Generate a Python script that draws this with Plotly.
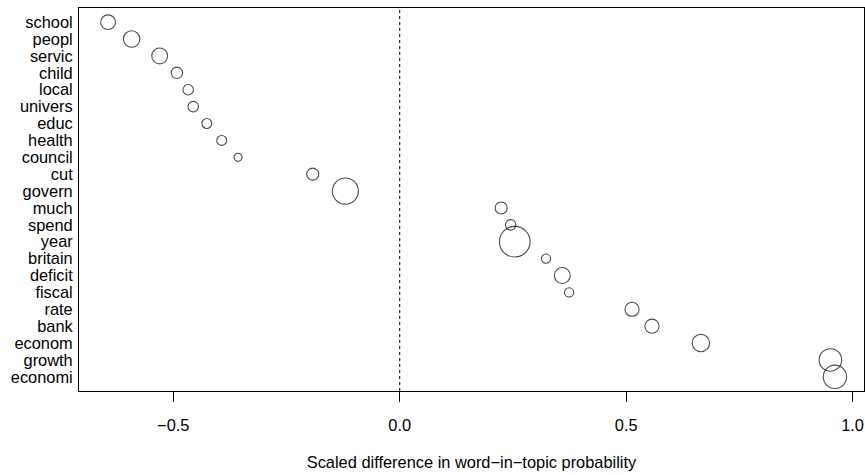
import plotly.graph_objects as go

# Data (top to bottom in the reference)
words = ["school", "peopl", "servic", "child", "local", "univers", "educ",
         "health", "council", "cut", "govern", "much", "spend", "year",
         "britain", "deficit", "fiscal", "rate", "bank", "econom", "growth",
         "economi"]
scaled_diff = [-0.644, -0.592, -0.530, -0.492, -0.467, -0.456, -0.426,
               -0.393, -0.357, -0.192, -0.120, 0.224, 0.245, 0.254,
               0.323, 0.359, 0.374, 0.513, 0.557, 0.665, 0.951, 0.961]
weight = [0.49, 0.55, 0.53, 0.38, 0.35, 0.35, 0.33,
          0.33, 0.27, 0.40, 0.87, 0.40, 0.35, 1.02,
          0.31, 0.53, 0.31, 0.47, 0.47, 0.58, 0.75, 0.78]
x_tickvals = [-0.5, 0.0, 0.5, 1.0]
x_ticktext = ["\u22120.5", "0.0", "0.5", "1.0"]
x_title = "Scaled difference in word\u2212in\u2212topic probability"

# bottom-to-top order for the category axis
cats = words[::-1]
xs = scaled_diff[::-1]
ws = weight[::-1]

FONT = "Liberation Sans, Arial, Helvetica, sans-serif"
FS = 16.4

fig = go.Figure()
fig.add_trace(go.Scatter(
    x=xs, y=cats, mode="markers",
    marker=dict(symbol="circle-open", size=[w * 30 for w in ws],
                color="black", line=dict(width=1.1, color="black")),
    cliponaxis=False, hoverinfo="x+y",
))

fig.add_vline(x=0, line=dict(color="black", width=1, dash="3px,3px"))

lo, hi = min(scaled_diff), max(scaled_diff)
pad = (hi - lo) * 0.04
n = len(words)

fig.update_layout(
    width=865, height=475,
    margin=dict(l=79, r=1, t=8, b=84, autoexpand=False),
    paper_bgcolor="white", plot_bgcolor="white",
    showlegend=False,
    font=dict(family=FONT, size=FS, color="black"),
    xaxis=dict(
        range=[lo - pad, hi + pad], automargin=False,
        tickmode="array", tickvals=x_tickvals, ticktext=x_ticktext,
        ticks="outside", ticklen=10, tickwidth=1, tickcolor="black",
        ticklabelstandoff=9,
        showline=True, linecolor="black", linewidth=1, mirror=True,
        showgrid=False, zeroline=False,
        title=dict(text=x_title, standoff=23, font=dict(size=FS)),
        tickfont=dict(size=FS),
    ),
    yaxis=dict(
        type="category", categoryorder="array", categoryarray=cats,
        tickmode="array", tickvals=cats, ticktext=cats,
        range=[-0.84, n - 1 + 0.84], automargin=False,
        ticks="", ticklabelstandoff=2,
        showline=True, linecolor="black", linewidth=1, mirror=True,
        showgrid=False, zeroline=False,
        tickfont=dict(size=FS),
    ),
)

# remove the page's default body margin so the figure sits at the top-left
fig.write_html("out.html",
               config={"displayModeBar": False},
               post_script="document.body.style.margin='0';"
                           "document.body.style.overflow='hidden';")
